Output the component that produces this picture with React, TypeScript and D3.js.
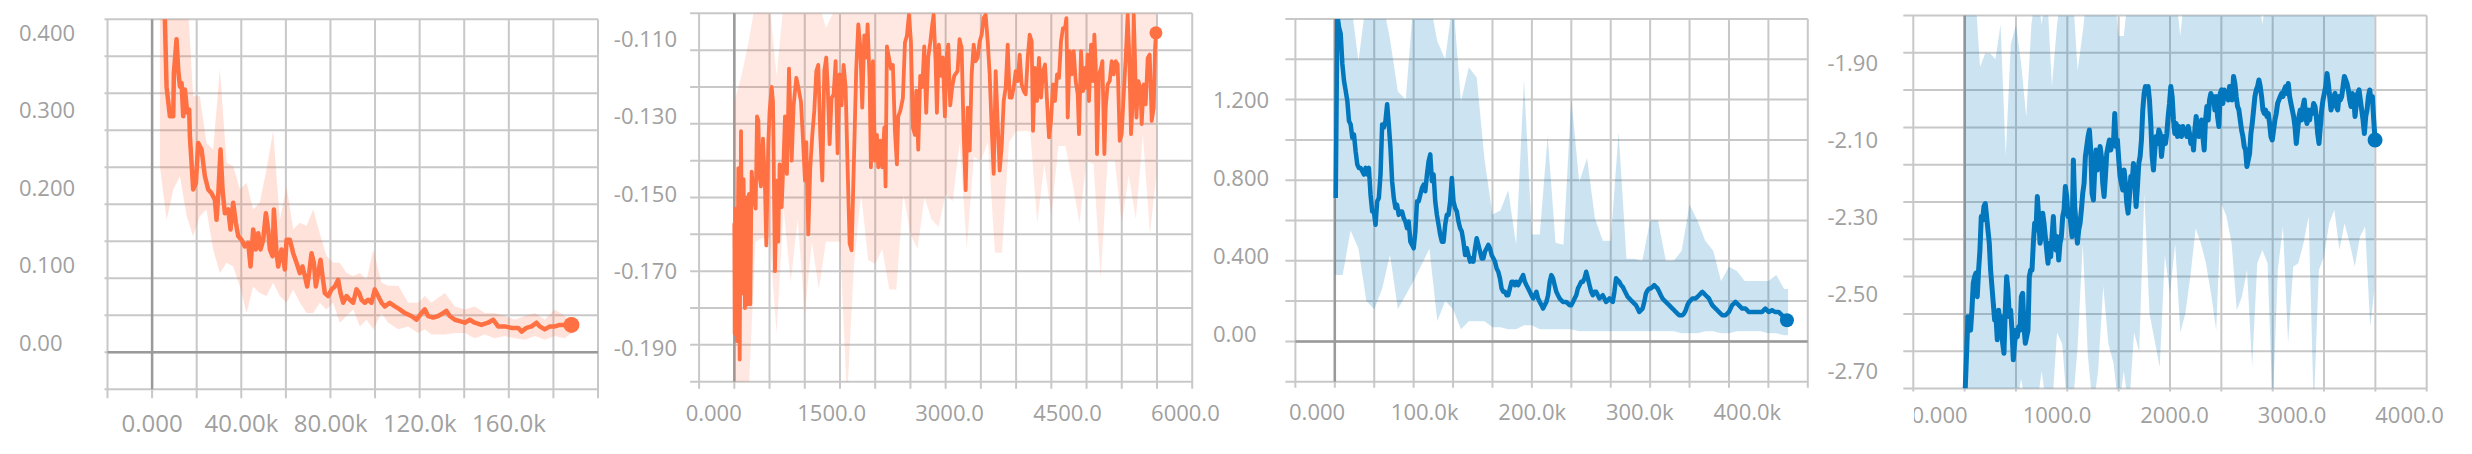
import React from "react";
import * as d3 from "d3";

// ---------- panel 1 : loss (steps in thousands) ----------
const p1XTicks = [0, 40, 80, 120, 160];
const p1XLabels = ["0.000", "40.00k", "80.00k", "120.0k", "160.0k"];
const p1YTicks = [0.4, 0.3, 0.2, 0.1, 0];
const p1YLabels = ["0.400", "0.300", "0.200", "0.100", "0.00"];
const p1Smooth: [number, number][] = [
  [5.4, 0.47], [5.74, 0.45], [6.49, 0.359], [7.98, 0.319], [9.48, 0.319], [9.78, 0.378], [10.97, 0.423],
  [11.72, 0.382], [12.47, 0.359], [13.21, 0.364], [13.96, 0.319], [14.71, 0.355], [15.75, 0.324], [16.65, 0.328],
  [16.95, 0.292], [17.7, 0.256], [18.44, 0.22], [19.64, 0.229], [20.69, 0.283], [22.18, 0.274], [23.68, 0.238],
  [25.17, 0.22], [26.67, 0.215], [28.16, 0.206], [28.91, 0.179], [29.65, 0.211], [30.7, 0.274], [31.6, 0.22],
  [32.64, 0.188], [34.14, 0.193], [35.18, 0.166], [36.38, 0.202], [37.58, 0.175], [38.62, 0.157], [40.12, 0.152],
  [41.61, 0.143], [43.11, 0.148], [44.15, 0.116], [45.35, 0.166], [46.54, 0.139], [47.59, 0.161], [48.64, 0.139],
  [49.83, 0.152], [51.03, 0.188], [52.07, 0.166], [52.82, 0.139], [54.02, 0.13], [54.62, 0.193], [55.81, 0.134],
  [56.56, 0.116], [58.05, 0.139], [59.1, 0.121], [59.55, 0.112], [60.3, 0.152], [61.79, 0.152], [63.28, 0.134],
  [64.78, 0.121], [66.27, 0.107], [67.47, 0.116], [68.52, 0.103], [69.56, 0.089], [70.46, 0.107], [71.51, 0.134],
  [72.55, 0.121], [73.45, 0.089], [74.49, 0.107], [75.54, 0.125], [76.44, 0.103], [77.48, 0.08], [78.98, 0.076],
  [80.47, 0.085], [81.97, 0.089], [83.46, 0.098], [84.51, 0.08], [85.7, 0.067], [87.2, 0.076], [88.69, 0.071],
  [90.19, 0.067], [91.68, 0.085], [92.88, 0.08], [93.93, 0.071], [95.42, 0.067], [96.91, 0.071], [98.41, 0.067],
  [99.9, 0.085], [101.4, 0.076], [102.9, 0.067], [104.4, 0.062], [106.6, 0.067], [108.9, 0.062], [111.1, 0.058],
  [113.4, 0.053], [116.3, 0.049], [118.6, 0.044], [120.8, 0.053], [122.3, 0.058], [123.8, 0.049], [126.1, 0.047],
  [128.3, 0.049], [130.5, 0.053], [132.0, 0.056], [133.5, 0.049], [135.8, 0.044], [138.0, 0.042], [140.3, 0.04],
  [142.5, 0.044], [144.7, 0.04], [147.7, 0.037], [150.7, 0.04], [153.0, 0.044], [155.2, 0.035], [158.2, 0.035],
  [161.2, 0.033], [164.2, 0.033], [165.7, 0.028], [167.9, 0.033], [170.2, 0.035], [172.4, 0.04], [173.9, 0.035],
  [176.1, 0.031], [178.4, 0.035], [180.6, 0.035], [182.9, 0.037], [185.1, 0.037], [188.1, 0.037],
];
// raw envelope: step, low, high
const p1Raw: [number, number, number][] = [
  [3.5, 0.251, 0.5], [6.5, 0.179, 0.5], [9.5, 0.22, 0.5], [12.5, 0.238, 0.5], [15.5, 0.184, 0.5],
  [18.4, 0.157, 0.346], [21.4, 0.184, 0.346], [24.4, 0.193, 0.283], [27.4, 0.139, 0.274], [30.4, 0.107, 0.383],
  [33.4, 0.121, 0.256], [36.4, 0.116, 0.251], [39.4, 0.089, 0.22], [42.4, 0.053, 0.229], [45.3, 0.089, 0.193],
  [48.3, 0.08, 0.202], [51.3, 0.076, 0.247], [54.3, 0.094, 0.299], [57.3, 0.076, 0.179], [60.3, 0.067, 0.224],
  [63.3, 0.085, 0.166], [66.3, 0.067, 0.175], [69.3, 0.053, 0.171], [72.3, 0.053, 0.193], [75.2, 0.067, 0.161],
  [78.2, 0.058, 0.13], [81.2, 0.067, 0.121], [84.2, 0.04, 0.121], [87.2, 0.049, 0.107], [90.2, 0.058, 0.103],
  [93.2, 0.035, 0.107], [96.2, 0.044, 0.098], [99.2, 0.031, 0.139], [102.9, 0.053, 0.094], [105.9, 0.04, 0.09],
  [110.4, 0.031, 0.09], [114.9, 0.035, 0.067], [119.3, 0.026, 0.067], [122.3, 0.031, 0.076], [125.3, 0.024, 0.067],
  [131.3, 0.024, 0.08], [135.8, 0.026, 0.062], [140.3, 0.026, 0.058], [144.7, 0.019, 0.062], [149.2, 0.024, 0.053],
  [153.7, 0.019, 0.053], [158.2, 0.022, 0.049], [162.7, 0.019, 0.044], [167.2, 0.017, 0.049], [171.7, 0.022, 0.053],
  [176.1, 0.017, 0.044], [180.6, 0.022, 0.058], [185.1, 0.019, 0.049], [188.1, 0.026, 0.04],
];

// ---------- panel 2 : reward (steps) ----------
const p2XTicks = [0, 1500, 3000, 4500, 6000];
const p2XLabels = ["0.000", "1500.0", "3000.0", "4500.0", "6000.0"];
const p2YTicks = [-0.11, -0.13, -0.15, -0.17, -0.19];
const p2YLabels = ["-0.110", "-0.130", "-0.150", "-0.170", "-0.190"];
const p2Smooth: [number, number][] = [
  [0, -0.157], [5, -0.187], [19, -0.153], [38, -0.189], [57, -0.142], [76, -0.194], [95, -0.132], [114, -0.176],
  [132, -0.145], [151, -0.18], [170, -0.15], [189, -0.179], [208, -0.149], [227, -0.179], [246, -0.143], [274, -0.149],
  [303, -0.153], [322, -0.128], [341, -0.129], [360, -0.1445], [378, -0.147], [407, -0.134], [435, -0.147], [454, -0.163],
  [482, -0.1355], [501, -0.1265], [530, -0.12], [549, -0.124], [577, -0.17], [605, -0.1454], [624, -0.162], [643, -0.141],
  [672, -0.1526], [700, -0.139], [719, -0.128], [747, -0.1436], [776, -0.115], [795, -0.1265], [814, -0.14], [842, -0.125],
  [880, -0.1175], [908, -0.12], [946, -0.124], [974, -0.134], [1003, -0.1454], [1022, -0.135], [1050, -0.16], [1078, -0.142],
  [1107, -0.133], [1135, -0.1265], [1164, -0.1157], [1192, -0.114], [1220, -0.133], [1249, -0.1454], [1277, -0.1157],
  [1305, -0.112], [1324, -0.119], [1353, -0.1355], [1381, -0.123], [1410, -0.122], [1438, -0.113], [1466, -0.138],
  [1495, -0.1166], [1523, -0.125], [1551, -0.114], [1580, -0.12], [1608, -0.1418], [1637, -0.1625], [1665, -0.1643],
  [1693, -0.1436], [1731, -0.115], [1760, -0.103], [1788, -0.109], [1816, -0.1256], [1845, -0.106], [1873, -0.112],
  [1892, -0.103], [1920, -0.118], [1939, -0.1418], [1968, -0.113], [1996, -0.14], [2024, -0.133], [2043, -0.1418],
  [2072, -0.1346], [2100, -0.1418], [2129, -0.131], [2147, -0.147], [2166, -0.109], [2195, -0.112], [2223, -0.115],
  [2251, -0.114], [2280, -0.132], [2308, -0.141], [2327, -0.128], [2356, -0.1265], [2393, -0.123], [2422, -0.108],
  [2450, -0.106], [2479, -0.1004], [2507, -0.1076], [2535, -0.131], [2564, -0.133], [2583, -0.121], [2611, -0.137],
  [2639, -0.117], [2668, -0.12], [2696, -0.109], [2724, -0.127], [2753, -0.112], [2781, -0.108], [2810, -0.103],
  [2829, -0.1004], [2857, -0.113], [2876, -0.127], [2904, -0.1085], [2933, -0.117], [2961, -0.112], [2989, -0.128],
  [3018, -0.111], [3037, -0.1085], [3065, -0.125], [3093, -0.12], [3122, -0.117], [3169, -0.1157], [3197, -0.107],
  [3227, -0.1094], [3256, -0.1328], [3284, -0.148], [3313, -0.1256], [3341, -0.1373], [3369, -0.1166], [3398, -0.1085],
  [3426, -0.113], [3455, -0.112], [3483, -0.1076], [3511, -0.1058], [3540, -0.1013], [3568, -0.1004], [3597, -0.1076],
  [3625, -0.1166], [3653, -0.131], [3682, -0.1436], [3710, -0.1157], [3739, -0.13], [3767, -0.1427], [3795, -0.1364],
  [3824, -0.1238], [3852, -0.1202], [3881, -0.1085], [3909, -0.1229], [3937, -0.1229], [3966, -0.1202], [3994, -0.1157],
  [4023, -0.1184], [4051, -0.1112], [4079, -0.1193], [4108, -0.1211], [4136, -0.122], [4165, -0.1121], [4193, -0.1058],
  [4221, -0.1076], [4240, -0.1319], [4269, -0.1148], [4297, -0.1238], [4325, -0.1121], [4354, -0.1229], [4382, -0.1157],
  [4411, -0.1139], [4439, -0.1238], [4467, -0.1337], [4496, -0.1292], [4524, -0.1193], [4553, -0.1238], [4581, -0.1166],
  [4609, -0.1175], [4638, -0.1076], [4666, -0.104], [4695, -0.104], [4714, -0.1013], [4733, -0.1283], [4761, -0.1103],
  [4789, -0.1166], [4818, -0.1103], [4846, -0.1184], [4875, -0.122], [4893, -0.1328], [4922, -0.1103], [4950, -0.1211],
  [4979, -0.1148], [4998, -0.1202], [5016, -0.1112], [5035, -0.1238], [5064, -0.1085], [5092, -0.1184], [5111, -0.1058],
  [5130, -0.1139], [5149, -0.1382], [5177, -0.1166], [5206, -0.1148], [5225, -0.113], [5253, -0.1382], [5272, -0.1256],
  [5300, -0.1193], [5329, -0.1184], [5357, -0.113], [5386, -0.1166], [5414, -0.113], [5442, -0.1139], [5471, -0.1346],
  [5499, -0.1328], [5528, -0.122], [5556, -0.1121], [5584, -0.1004], [5603, -0.1094], [5632, -0.1328], [5651, -0.1256],
  [5670, -0.1004], [5689, -0.113], [5708, -0.1283], [5736, -0.1184], [5764, -0.1202], [5783, -0.1301], [5812, -0.1193],
  [5840, -0.1247], [5868, -0.1121], [5897, -0.1112], [5925, -0.1292], [5954, -0.1256], [5973, -0.1094], [5985, -0.1053],
];
const p2Raw: [number, number, number][] = [
  [0, -0.205, -0.124], [100, -0.205, -0.117], [200, -0.205, -0.108], [300, -0.162, -0.097], [400, -0.161, -0.097],
  [500, -0.161, -0.097], [600, -0.187, -0.117], [700, -0.153, -0.097], [800, -0.173, -0.097], [900, -0.156, -0.097],
  [1000, -0.182, -0.097], [1100, -0.162, -0.097], [1200, -0.175, -0.097], [1300, -0.162, -0.104], [1400, -0.162, -0.1],
  [1500, -0.162, -0.097], [1600, -0.205, -0.097], [1700, -0.168, -0.097], [1800, -0.149, -0.097], [1900, -0.167, -0.097],
  [2000, -0.168, -0.097], [2100, -0.164, -0.097], [2200, -0.175, -0.097], [2300, -0.175, -0.097], [2400, -0.149, -0.097],
  [2500, -0.16, -0.097], [2600, -0.164, -0.097], [2700, -0.15, -0.097], [2800, -0.156, -0.097], [2900, -0.158, -0.097],
  [3000, -0.149, -0.097], [3100, -0.151, -0.097], [3200, -0.135, -0.097], [3300, -0.164, -0.097], [3400, -0.139, -0.097],
  [3500, -0.14, -0.097], [3600, -0.135, -0.097], [3700, -0.165, -0.097], [3800, -0.165, -0.097], [3900, -0.135, -0.097],
  [4000, -0.132, -0.097], [4100, -0.132, -0.097], [4200, -0.132, -0.097], [4300, -0.157, -0.097], [4400, -0.141, -0.097],
  [4500, -0.155, -0.097], [4600, -0.136, -0.097], [4700, -0.136, -0.097], [4800, -0.146, -0.097], [4900, -0.157, -0.097],
  [5000, -0.14, -0.097], [5100, -0.141, -0.097], [5200, -0.172, -0.097], [5300, -0.14, -0.097], [5400, -0.14, -0.097],
  [5500, -0.157, -0.097], [5600, -0.144, -0.097], [5700, -0.156, -0.097], [5800, -0.133, -0.097], [5900, -0.16, -0.097],
  [5990, -0.144, -0.097],
];

// ---------- panel 3 : loss (steps in thousands, sampled every 1.6835k) ----------
const p3XTicks = [0, 100, 200, 300, 400];
const p3XLabels = ["0.000", "100.0k", "200.0k", "300.0k", "400.0k"];
const p3YTicks = [1.2, 0.8, 0.4, 0];
const p3YLabels = ["1.200", "0.800", "0.400", "0.00"];
const p3Start = 0.91;
const p3Interval = 1.6835;
const p3Smooth = [
  0.712, 1.62, 1.559, 1.526, 1.377, 1.293, 1.244, 1.194, 1.094, 1.077, 1.011, 1.027, 0.944, 0.878, 0.861, 0.861,
  0.845, 0.828, 0.861, 0.828, 0.861, 0.728, 0.645, 0.645, 0.579, 0.695, 0.712, 0.828, 1.077, 1.061, 1.094, 1.177,
  1.077, 0.961, 0.795, 0.712, 0.662, 0.678, 0.628, 0.645, 0.645, 0.612, 0.595, 0.562, 0.595, 0.495, 0.479, 0.462,
  0.545, 0.695, 0.695, 0.728, 0.761, 0.778, 0.745, 0.828, 0.894, 0.928, 0.795, 0.828, 0.695, 0.628, 0.579, 0.529,
  0.495, 0.495, 0.579, 0.628, 0.628, 0.695, 0.811, 0.695, 0.662, 0.645, 0.595, 0.562, 0.545, 0.495, 0.429, 0.462,
  0.429, 0.396, 0.412, 0.396, 0.462, 0.512, 0.479, 0.446, 0.412, 0.412, 0.446, 0.462, 0.479, 0.462, 0.429, 0.412,
  0.396, 0.362, 0.346, 0.313, 0.263, 0.246, 0.246, 0.229, 0.229, 0.263, 0.296, 0.296, 0.279, 0.296, 0.279, 0.296,
  0.313, 0.329, 0.296, 0.279, 0.263, 0.246, 0.229, 0.213, 0.229, 0.246, 0.213, 0.196, 0.18, 0.163, 0.18, 0.196,
  0.229, 0.296, 0.329, 0.313, 0.279, 0.246, 0.229, 0.213, 0.204, 0.196, 0.196, 0.196, 0.188, 0.18,
  0.18, 0.196, 0.213, 0.229, 0.263, 0.279, 0.296, 0.296, 0.313, 0.346, 0.313, 0.279, 0.246, 0.229, 0.246, 0.246,
  0.229, 0.213, 0.221, 0.229, 0.213, 0.196, 0.204, 0.213, 0.204, 0.196, 0.246, 0.313, 0.304, 0.296, 0.279, 0.271,
  0.254, 0.238, 0.221, 0.213, 0.204, 0.196, 0.188, 0.18, 0.163, 0.146, 0.155, 0.163, 0.196, 0.238, 0.254, 0.263,
  0.263, 0.271, 0.279, 0.271, 0.263, 0.246, 0.229, 0.213, 0.204, 0.196, 0.188, 0.18, 0.171, 0.163, 0.155, 0.146,
  0.138, 0.13, 0.13, 0.13, 0.138, 0.155, 0.18, 0.196, 0.204, 0.213, 0.213, 0.213, 0.221, 0.229, 0.238, 0.246,
  0.238, 0.229, 0.221, 0.213, 0.196, 0.18, 0.171, 0.163, 0.155, 0.146, 0.138, 0.13, 0.13, 0.13, 0.138, 0.146,
  0.163, 0.18, 0.188, 0.196, 0.188, 0.18, 0.171, 0.163, 0.163, 0.163, 0.155, 0.146, 0.146, 0.146, 0.146, 0.146,
  0.146, 0.146, 0.146, 0.146, 0.155, 0.163, 0.155, 0.146, 0.15, 0.155, 0.15, 0.146, 0.146, 0.146, 0.138, 0.13,
  0.121, 0.113, 0.105,
];
const p3Raw: [number, number, number][] = [
  [0, 0.33, 1.7], [8, 0.33, 1.7], [16, 0.55, 1.7], [24, 0.46, 1.39], [32, 0.2, 1.7], [40, 0.16, 1.7],
  [48, 0.26, 1.7], [56, 0.43, 1.5], [64, 0.16, 1.24], [72, 0.23, 1.2], [80, 0.3, 1.7], [88, 0.38, 1.7],
  [96, 0.46, 1.7], [104, 0.1, 1.49], [112, 0.2, 1.4], [120, 0.16, 1.7], [128, 0.06, 1.19], [136, 0.1, 1.36],
  [144, 0.1, 1.31], [152, 0.1, 0.9], [160, 0.07, 0.63], [168, 0.07, 0.65], [176, 0.06, 0.75], [184, 0.06, 0.48],
  [192, 0.08, 1.3], [200, 0.08, 0.53], [208, 0.06, 0.53], [216, 0.06, 1.02], [224, 0.06, 0.49], [232, 0.06, 0.48],
  [240, 0.06, 1.21], [248, 0.05, 0.79], [256, 0.05, 0.91], [264, 0.05, 0.61], [272, 0.05, 0.5], [280, 0.05, 0.5],
  [288, 0.05, 1.04], [296, 0.05, 0.41], [304, 0.05, 0.41], [312, 0.05, 0.4], [320, 0.05, 0.6], [328, 0.05, 0.6],
  [336, 0.05, 0.4], [344, 0.05, 0.4], [352, 0.04, 0.45], [360, 0.04, 0.68], [368, 0.04, 0.6], [376, 0.05, 0.5],
  [384, 0.05, 0.45], [392, 0.04, 0.3], [400, 0.04, 0.37], [408, 0.05, 0.35], [416, 0.05, 0.3], [424, 0.05, 0.3],
  [432, 0.05, 0.3], [440, 0.04, 0.3], [448, 0.04, 0.33], [456, 0.03, 0.26], [460, 0.03, 0.26],
];

// ---------- panel 4 : reward (steps, sampled every 13) ----------
const p4XTicks = [0, 1000, 2000, 3000, 4000];
const p4XLabels = ["0.000", "1000.0", "2000.0", "3000.0", "4000.0"];
const p4YTicks = [-1.9, -2.1, -2.3, -2.5, -2.7];
const p4YLabels = ["-1.90", "-2.10", "-2.30", "-2.50", "-2.70"];
const p4Start = 6;
const p4Interval = 13;
const p4Smooth = [
  -2.745, -2.654, -2.559, -2.594, -2.594, -2.542, -2.472, -2.455, -2.446, -2.507, -2.438, -2.386, -2.299, -2.308,
  -2.273, -2.265, -2.299, -2.334, -2.368, -2.438, -2.481, -2.524, -2.568, -2.559, -2.619, -2.542, -2.576, -2.559,
  -2.628, -2.654, -2.542, -2.455, -2.49, -2.559, -2.542, -2.594, -2.671, -2.628, -2.594, -2.611, -2.585, -2.594,
  -2.507, -2.498, -2.585, -2.628, -2.611, -2.594, -2.455, -2.438, -2.438, -2.368, -2.316, -2.334, -2.247, -2.299,
  -2.368, -2.351, -2.29, -2.316, -2.351, -2.386, -2.42, -2.368, -2.403, -2.351, -2.299, -2.368, -2.386, -2.351,
  -2.412, -2.368, -2.351, -2.299, -2.282, -2.221, -2.247, -2.299, -2.282, -2.316, -2.351, -2.152, -2.273, -2.316,
  -2.368, -2.334, -2.316, -2.282, -2.239, -2.213, -2.143, -2.117, -2.091, -2.074, -2.126, -2.239, -2.256, -2.178,
  -2.126, -2.178, -2.152, -2.117, -2.143, -2.213, -2.247, -2.195, -2.135, -2.117, -2.1, -2.126, -2.109, -2.109,
  -2.031, -2.117, -2.1, -2.152, -2.195, -2.213, -2.23, -2.178, -2.213, -2.265, -2.29, -2.247, -2.195, -2.213,
  -2.161, -2.213, -2.273, -2.221, -2.161, -2.143, -2.1, -2.022, -1.979, -1.961, -1.979, -1.961, -1.996, -2.057,
  -2.143, -2.178, -2.126, -2.091, -2.109, -2.074, -2.083, -2.143, -2.109, -2.091, -2.109, -2.083, -2.039, -2.005,
  -1.961, -1.987, -2.048, -2.083, -2.057, -2.091, -2.065, -2.074, -2.091, -2.065, -2.083, -2.074, -2.091, -2.065,
  -2.083, -2.109, -2.091, -2.126, -2.074, -2.039, -2.074, -2.091,
  -2.074, -2.048, -2.091, -2.126, -2.048, -2.013, -2.048, -1.996, -1.979, -1.996, -1.987, -2.022, -1.987, -2.039,
  -2.065, -1.979, -1.97, -2.005, -1.97, -1.987, -1.979, -1.996, -1.961, -1.97, -1.996, -1.935, -1.953, -1.987,
  -2.013, -2.022, -2.048, -2.074, -2.091, -2.117, -2.126, -2.169, -2.152, -2.135, -2.083, -2.057, -2.022, -1.987,
  -1.97, -1.961, -1.944, -1.961, -1.987, -2.022, -2.031, -2.022, -2.039, -2.031, -2.057, -2.091, -2.1, -2.074,
  -2.048, -2.031, -2.005, -1.996, -1.987, -1.979, -1.987, -1.97, -1.961, -1.979, -1.953, -1.987, -2.005, -2.022,
  -2.039, -2.065, -2.109, -2.074, -2.039, -2.022, -2.048, -2.013, -1.996, -2.039, -2.057, -2.022, -2.048, -2.022,
  -2.031, -2.005, -2.013, -2.039, -2.083, -2.109, -2.065, -2.022, -1.996, -1.979, -1.961, -1.927, -1.953, -1.987,
  -2.022, -2.005, -1.987, -1.979, -2.013, -2.022, -1.987, -1.996, -1.987, -1.961, -1.935, -1.944, -1.953, -1.97,
  -1.996, -2.013, -1.979, -1.987, -2.039, -2.005, -1.979, -1.97, -1.996, -2.022, -2.048, -2.083, -2.039, -2.022,
  -1.987, -1.97, -1.996, -1.987, -2.048, -2.1,
];
const p4Raw: [number, number, number][] = [
  [0, -2.8, -1.7], [50, -2.8, -1.7], [100, -2.8, -1.7], [150, -2.8, -1.91], [200, -2.8, -1.875], [250, -2.8, -1.875],
  [300, -2.8, -1.89], [350, -2.8, -1.8], [400, -2.8, -2.14], [450, -2.8, -1.85], [500, -2.8, -1.8], [550, -2.72, -1.9],
  [600, -2.8, -2.04], [650, -2.8, -1.8], [700, -2.8, -1.7], [750, -2.7, -1.8], [800, -2.8, -1.7], [850, -2.8, -1.96],
  [900, -2.6, -1.8], [950, -2.63, -1.7], [1000, -2.8, -1.7], [1050, -2.8, -1.7], [1100, -2.64, -1.92], [1150, -2.37, -1.82],
  [1200, -2.66, -1.7], [1250, -2.8, -1.7], [1300, -2.7, -1.7], [1350, -2.48, -1.7], [1400, -2.63, -1.7], [1450, -2.68, -1.7],
  [1500, -2.8, -1.83], [1550, -2.7, -1.83], [1600, -2.8, -1.7], [1650, -2.6, -1.7], [1700, -2.65, -1.7], [1750, -2.24, -1.7],
  [1800, -2.55, -1.7], [1850, -2.62, -1.7], [1900, -2.69, -1.7], [1950, -2.4, -1.7], [2000, -2.5, -1.7], [2050, -2.37, -1.7],
  [2100, -2.6, -1.83], [2150, -2.55, -1.7], [2200, -2.45, -1.7], [2250, -2.33, -1.7], [2300, -2.368, -1.7], [2350, -2.42, -1.7],
  [2400, -2.5, -1.7], [2450, -2.594, -1.7], [2500, -2.265, -1.7], [2550, -2.299, -1.7], [2600, -2.368, -1.7], [2650, -2.542, -1.7],
  [2700, -2.507, -1.7], [2750, -2.438, -1.7], [2800, -2.689, -1.7], [2850, -2.42, -1.7], [2900, -2.386, -1.8], [2950, -2.42, -1.7],
  [3000, -2.8, -1.7], [3050, -2.438, -1.7], [3100, -2.325, -1.7], [3150, -2.628, -1.7], [3200, -2.429, -1.7], [3250, -2.42, -1.7],
  [3300, -2.368, -1.7], [3350, -2.299, -1.7], [3400, -2.8, -1.7], [3450, -2.438, -1.7], [3500, -2.403, -1.7], [3550, -2.316, -1.7],
  [3600, -2.282, -1.7], [3650, -2.386, -1.7], [3700, -2.316, -1.7], [3750, -2.368, -1.7], [3800, -2.429, -1.7], [3850, -2.351, -1.7],
  [3900, -2.325, -1.7], [3950, -2.585, -1.7], [3990, -2.49, -1.7],
];

const ORANGE = "#ff7043";
const BLUE = "#0277bd";
const GRID = "#c8c8c8";
const AXIS = "#9a9a9a";
const TEXT = "#a0a0a0";
const FONT = "'Open Sans', 'DejaVu Sans', sans-serif";

const uniform = (start: number, step: number, vals: number[]): [number, number][] =>
  vals.map((v, i) => [start + i * step, v]);

const panels = [
  {
    id: "p1", color: ORANGE, smooth: p1Smooth, raw: p1Raw, lineW: 4.5, rawOpacity: 0.2, dotR: 8,
    left: 107.5, right: 598, top: 19.3, bottom: 389.3, cols: 11, rows: 10,
    xDomain: [-20, 200], yDomain: [-0.05, 0.45], zeroCol: 1, zeroRow: 9,
    xTicks: p1XTicks, xLabels: p1XLabels, xLabelRange: [152.2, 509], xLabelY: 423, xFont: 24,
    yTicks: p1YTicks, yLabels: p1YLabels, yLabelRange: [33, 343], yLabelX: 19, yAnchor: "start", yFont: 22,
    yTickLen: 3, xTickLen: 9, clipX: null as number | null,
  },
  {
    id: "p2", color: ORANGE, smooth: p2Smooth, raw: p2Raw, lineW: 3.8, rawOpacity: 0.16, dotR: 6.5,
    left: 699.1, right: 1192.2, top: 13.3, bottom: 381.7, cols: 14, rows: 10,
    xDomain: [-500, 6500], yDomain: [-0.2, -0.1], zeroCol: 1, zeroRow: -1,
    xTicks: p2XTicks, xLabels: p2XLabels, xLabelRange: [713.7, 1185.4], xLabelY: 413, xFont: 22,
    yTicks: p2YTicks, yLabels: p2YLabels, yLabelRange: [39.3, 348.3], yLabelX: 677, yAnchor: "end", yFont: 22,
    yTickLen: 9, xTickLen: 7, clipX: null,
  },
  {
    id: "p3", color: BLUE, smooth: uniform(p3Start, p3Interval, p3Smooth), raw: p3Raw, lineW: 4.5, rawOpacity: 0.2, dotR: 7,
    left: 1295.4, right: 1807.8, top: 19, bottom: 381.7, cols: 13, rows: 9,
    xDomain: [-40, 480], yDomain: [-0.2, 1.6], zeroCol: 1, zeroRow: 8,
    xTicks: p3XTicks, xLabels: p3XLabels, xLabelRange: [1317.1, 1747.3], xLabelY: 412, xFont: 22,
    yTicks: p3YTicks, yLabels: p3YLabels, yLabelRange: [100, 334], yLabelX: 1213, yAnchor: "start", yFont: 22,
    yTickLen: 10, xTickLen: 6, clipX: null,
  },
  {
    id: "p4", color: BLUE, smooth: uniform(p4Start, p4Interval, p4Smooth), raw: p4Raw, lineW: 5, rawOpacity: 0.2, dotR: 7.5,
    left: 1913.3, right: 2426.7, top: 15.5, bottom: 388.5, cols: 10, rows: 10,
    xDomain: [-500, 4500], yDomain: [-2.7455, -1.7766], zeroCol: 1, zeroRow: -1,
    xTicks: p4XTicks, xLabels: p4XLabels, xLabelRange: [1939.5, 2409.6], xLabelY: 415, xFont: 22,
    yTicks: p4YTicks, yLabels: p4YLabels, yLabelRange: [63, 371], yLabelX: 1878, yAnchor: "end", yFont: 22,
    yTickLen: 10, xTickLen: 3, clipX: 1914,
  },
];

type PanelCfg = (typeof panels)[number];

const Panel = ({ cfg }: { cfg: PanelCfg }) => {
  const x = d3.scaleLinear().domain(cfg.xDomain).range([cfg.left, cfg.right]);
  const y = d3.scaleLinear().domain(cfg.yDomain).range([cfg.bottom, cfg.top]);
  const gx = d3.scaleLinear().domain([0, cfg.cols]).range([cfg.left, cfg.right]);
  const gy = d3.scaleLinear().domain([0, cfg.rows]).range([cfg.top, cfg.bottom]);
  const xl = d3.scaleLinear().domain([cfg.xTicks[0], cfg.xTicks[cfg.xTicks.length - 1]]).range(cfg.xLabelRange);
  const yl = d3.scaleLinear().domain([cfg.yTicks[0], cfg.yTicks[cfg.yTicks.length - 1]]).range(cfg.yLabelRange);

  const line = d3.line<[number, number]>().x((d) => x(d[0])).y((d) => y(d[1]));
  const area = d3
    .area<[number, number, number]>()
    .x((d) => x(d[0]))
    .y0((d) => y(d[1]))
    .y1((d) => y(d[2]));
  const last = cfg.smooth[cfg.smooth.length - 1];

  return (
    <g>
      <defs>
        <clipPath id={`clip-${cfg.id}`}>
          <rect x={cfg.left} y={cfg.top} width={cfg.right - cfg.left} height={cfg.bottom - cfg.top} />
        </clipPath>
        {cfg.clipX !== null && (
          <clipPath id={`lab-${cfg.id}`}>
            <rect x={cfg.clipX} y={cfg.bottom} width={cfg.right - cfg.clipX + 60} height={80} />
          </clipPath>
        )}
      </defs>

      {/* grid */}
      {d3.range(cfg.rows + 1).map((i) => (
        <line key={`h${i}`} x1={cfg.left - cfg.yTickLen} x2={cfg.right} y1={gy(i)} y2={gy(i)}
          stroke={GRID} strokeWidth={2} />
      ))}
      {d3.range(cfg.cols + 1).map((i) => (
        <line key={`v${i}`} x1={gx(i)} x2={gx(i)} y1={cfg.top} y2={cfg.bottom + cfg.xTickLen}
          stroke={GRID} strokeWidth={2} />
      ))}
      {cfg.zeroRow >= 0 && (
        <line x1={cfg.left} x2={cfg.right} y1={gy(cfg.zeroRow)} y2={gy(cfg.zeroRow)} stroke={AXIS} strokeWidth={2.5} />
      )}
      <line x1={gx(cfg.zeroCol)} x2={gx(cfg.zeroCol)} y1={cfg.top} y2={cfg.bottom} stroke={AXIS} strokeWidth={2.5} />

      {/* series */}
      <g clipPath={`url(#clip-${cfg.id})`}>
        <path d={area(cfg.raw) ?? ""} fill={cfg.color} fillOpacity={cfg.rawOpacity} />
        <path d={line(cfg.smooth) ?? ""} fill="none" stroke={cfg.color} strokeWidth={cfg.lineW} strokeLinejoin="round" />
      </g>
      <circle cx={x(last[0])} cy={y(last[1])} r={cfg.dotR} fill={cfg.color} />

      {/* labels */}
      <g fontFamily={FONT} fill={TEXT}>
        {cfg.yTicks.map((t, i) => (
          <text key={`yl${i}`} x={cfg.yLabelX} y={yl(t)} dy="0.36em" textAnchor={cfg.yAnchor} fontSize={cfg.yFont}>
            {cfg.yLabels[i]}
          </text>
        ))}
        <g clipPath={cfg.clipX !== null ? `url(#lab-${cfg.id})` : undefined}>
          {cfg.xTicks.map((t, i) => (
            <text key={`xl${i}`} x={xl(t)} y={cfg.xLabelY} dy="0.36em" textAnchor="middle" fontSize={cfg.xFont}>
              {cfg.xLabels[i]}
            </text>
          ))}
        </g>
      </g>
    </g>
  );
};

export default function App() {
  return (
    <svg width={2472} height={454} style={{ position: "absolute", left: 0, top: 0, background: "#fff" }}>
      {panels.map((p) => (
        <Panel key={p.id} cfg={p} />
      ))}
    </svg>
  );
}
